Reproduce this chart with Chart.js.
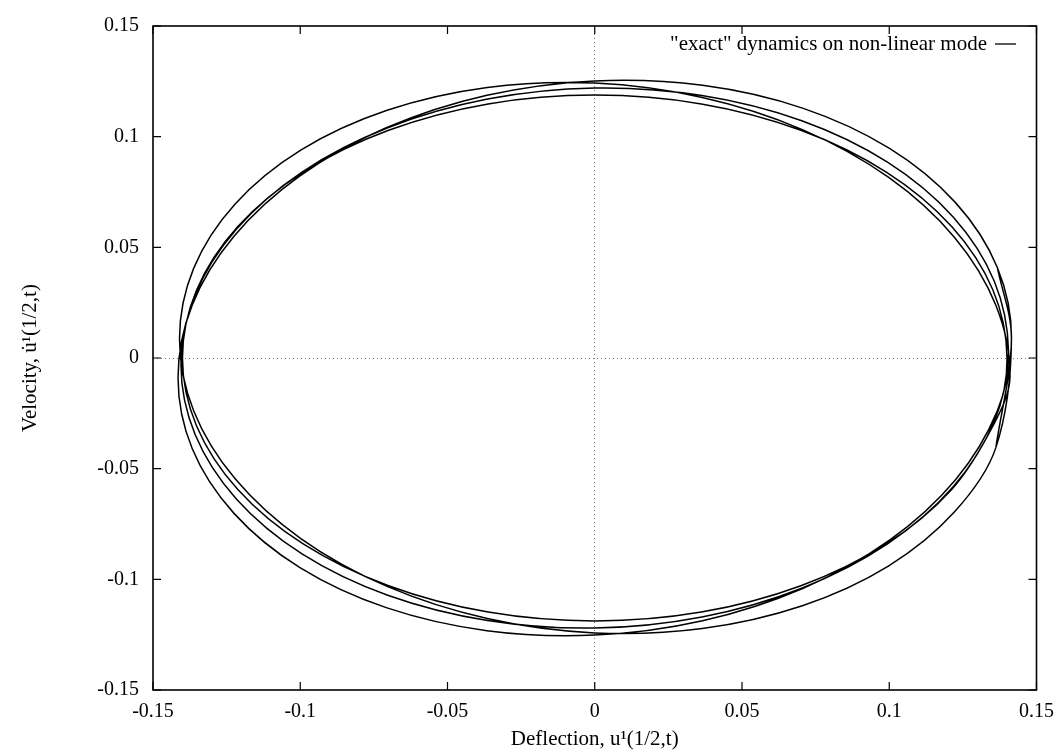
<!DOCTYPE html>
<html>
<head>
<meta charset="utf-8">
<script src="https://cdn.jsdelivr.net/npm/chart.js@4.4.0/dist/chart.umd.min.js"></script>
<style>
  html, body { margin: 0; padding: 0; background: #fff; }
  #wrap { width: 1064px; height: 752px; }
</style>
</head>
<body>
<div id="wrap"><canvas id="phase"></canvas></div>
<script>
// tick values and labels
const xTickValues = [-0.15, -0.1, -0.05, 0, 0.05, 0.1, 0.15];
const xTickLabels = ['-0.15', '-0.1', '-0.05', '0', '0.05', '0.1', '0.15'];
const yTickValues = [-0.15, -0.1, -0.05, 0, 0.05, 0.1, 0.15];
const yTickLabels = ['-0.15', '-0.1', '-0.05', '0', '0.05', '0.1', '0.15'];

// successive loops of the trajectory (deflection, velocity)
const loop1X = [0.1415, 0.1367, 0.1225, 0.1001, 0.0708, 0.0366, 0, -0.0366, -0.0708, -0.1001, -0.1225, -0.1367,
                -0.1415, -0.1367, -0.1225, -0.1001, -0.0708, -0.0366, 0, 0.0366, 0.0708, 0.1001, 0.1225, 0.1367];
const loop1Y = [0.0088, 0.0409, 0.0702, 0.0947, 0.1128, 0.1232, 0.1252, 0.1187, 0.1040, 0.0823, 0.0550, 0.0239,
                -0.0088, -0.0409, -0.0702, -0.0947, -0.1128, -0.1232, -0.1252, -0.1187, -0.1040, -0.0823, -0.0550, -0.0239];

const loop2X = [0.1405, 0.1357, 0.1217, 0.0994, 0.0703, 0.0364, 0, -0.0364, -0.0703, -0.0994, -0.1217, -0.1357,
                -0.1405, -0.1357, -0.1217, -0.0994, -0.0703, -0.0364, 0, 0.0364, 0.0703, 0.0994, 0.1217, 0.1357];
const loop2Y = [0.0032, 0.0346, 0.0637, 0.0885, 0.1072, 0.1186, 0.1220, 0.1170, 0.1040, 0.0840, 0.0582, 0.0285,
                -0.0032, -0.0346, -0.0637, -0.0885, -0.1072, -0.1186, -0.1220, -0.1170, -0.1040, -0.0840, -0.0582, -0.0285];

const loop3X = [0.1400, 0.1352, 0.1212, 0.0990, 0.0700, 0.0362, 0, -0.0362, -0.0700, -0.0990, -0.1212, -0.1352,
                -0.1400, -0.1352, -0.1212, -0.0990, -0.0700, -0.0362, 0, 0.0362, 0.0700, 0.0990, 0.1212, 0.1352];
const loop3Y = [0, 0.0307, 0.0594, 0.0840, 0.1029, 0.1148, 0.1188, 0.1148, 0.1029, 0.0840, 0.0594, 0.0307,
                0, -0.0307, -0.0594, -0.0840, -0.1029, -0.1148, -0.1188, -0.1148, -0.1029, -0.0840, -0.0594, -0.0307];

const loop4X = [0.1410, 0.1362, 0.1221, 0.0997, 0.0705, 0.0365, 0, -0.0365, -0.0705, -0.0997, -0.1221, -0.1362,
                -0.1410, -0.1362, -0.1221, -0.0997, -0.0705, -0.0365, 0, 0.0365, 0.0705, 0.0997, 0.1221, 0.1362];
const loop4Y = [-0.0087, 0.0238, 0.0546, 0.0817, 0.1032, 0.1177, 0.1242, 0.1222, 0.1119, 0.0940, 0.0696, 0.0405,
                0.0087, -0.0238, -0.0546, -0.0817, -0.1032, -0.1177, -0.1242, -0.1222, -0.1119, -0.0940, -0.0696, -0.0405];

const legendText = '"exact" dynamics on non-linear mode';

// join the loops into one trajectory; the ends overlap so the seam stays smooth
const trajX = [loop4X[23]].concat(loop1X, loop2X, loop3X, loop4X, loop1X.slice(0, 2));
const trajY = [loop4Y[23]].concat(loop1Y, loop2Y, loop3Y, loop4Y, loop1Y.slice(0, 2));
const traj = trajX.map((x, i) => ({ x: x, y: trajY[i] }));

const serif = "'Liberation Serif', 'DejaVu Serif', serif";

// box, inward ticks and the gnuplot style key
const framePlugin = {
  id: 'frame',
  afterDraw(chart) {
    const ctx = chart.ctx;
    const a = chart.chartArea;
    const xs = chart.scales.x, ys = chart.scales.y;
    ctx.save();
    ctx.strokeStyle = '#000';
    ctx.lineWidth = 1.6;
    ctx.strokeRect(a.left, a.top, a.right - a.left, a.bottom - a.top);
    ctx.lineWidth = 1.2;
    ctx.beginPath();
    xTickValues.forEach(v => {
      const px = xs.getPixelForValue(v);
      ctx.moveTo(px, a.bottom); ctx.lineTo(px, a.bottom - 8);
      ctx.moveTo(px, a.top); ctx.lineTo(px, a.top + 8);
    });
    yTickValues.forEach(v => {
      const py = ys.getPixelForValue(v);
      ctx.moveTo(a.left, py); ctx.lineTo(a.left + 8, py);
      ctx.moveTo(a.right, py); ctx.lineTo(a.right - 8, py);
    });
    ctx.stroke();

    // key
    ctx.font = '21px ' + serif;
    ctx.fillStyle = '#000';
    ctx.textAlign = 'right';
    ctx.textBaseline = 'middle';
    ctx.fillText(legendText, 987, 44);
    ctx.lineWidth = 1.3;
    ctx.beginPath();
    ctx.moveTo(995, 44); ctx.lineTo(1016, 44);
    ctx.stroke();
    ctx.restore();
  }
};

const zeroGrid = c => (c.tick && c.tick.value === 0) ? '#777' : 'rgba(0,0,0,0)';

new Chart(document.getElementById('phase'), {
  type: 'scatter',
  data: {
    datasets: [{
      label: legendText,
      data: traj,
      showLine: true,
      borderColor: '#000',
      borderWidth: 1.5,
      pointRadius: 0,
      tension: 0.34,
      fill: false
    }]
  },
  options: {
    responsive: true,
    maintainAspectRatio: false,
    animation: false,
    layout: { padding: { left: 18, top: 14, right: 24, bottom: 0 } },
    plugins: {
      legend: { display: false },
      tooltip: { enabled: false }
    },
    scales: {
      x: {
        type: 'linear',
        min: -0.15,
        max: 0.15,
        afterBuildTicks: s => { s.ticks = xTickValues.map(v => ({ value: v })); },
        afterFit: s => { s.height = 62; },
        ticks: {
          padding: 10,
          color: '#000',
          font: { family: serif, size: 20 },
          maxRotation: 0,
          callback: (v, i) => xTickLabels[i]
        },
        grid: { color: zeroGrid, lineWidth: 1, drawTicks: false },
        border: { display: false, dash: [1, 3] },
        title: {
          display: true,
          text: 'Deflection, u\u00B9(1/2,t)',
          color: '#000',
          font: { family: serif, size: 21 },
          padding: { top: 0, bottom: 0 }
        }
      },
      y: {
        type: 'linear',
        min: -0.15,
        max: 0.15,
        afterBuildTicks: s => { s.ticks = yTickValues.map(v => ({ value: v })); },
        afterFit: s => { s.width = 135; },
        ticks: {
          padding: 14,
          color: '#000',
          font: { family: serif, size: 20 },
          callback: (v, i) => yTickLabels[i]
        },
        grid: { color: zeroGrid, lineWidth: 1, drawTicks: false },
        border: { display: false, dash: [1, 3] },
        title: {
          display: true,
          text: 'Velocity, u\u0307\u00B9(1/2,t)',
          color: '#000',
          font: { family: serif, size: 21 },
          padding: { top: 0, bottom: 0 }
        }
      }
    }
  },
  plugins: [framePlugin]
});
</script>
</body>
</html>
